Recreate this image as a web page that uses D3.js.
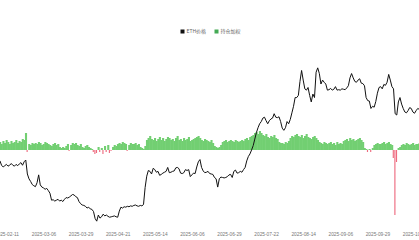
<!DOCTYPE html>
<meta charset="utf-8" />
<head>
  <script src="https://cdn.jsdelivr.net/npm/d3@7/dist/d3.min.js"></script>
  <title>ETH价格 持仓加权</title>
  <style>
    body {
      margin: 0;
      background: #fff;
    }

    .axis--x path,
    .axis--x line {
      display: none;
    }

    .axis--x text {
      fill: #777;
      font-size: 4.8px;
      font-family: "Liberation Sans", Arial, sans-serif;
    }

    .legend text {
      fill: #666;
      font-size: 5px;
      font-family: "Noto Sans CJK SC", sans-serif;
    }
  </style>
</head>
<body>
  <svg id="chart" width="419" height="240"></svg>
</body>

<script>
  // daily data, first day = startDate
  const startDate = "2025-02-07";
  const seriesNames = ["ETH价格", "持仓加权"];
  const tickLabels = [
    "2025-02-11", "2025-03-06", "2025-03-29", "2025-04-21", "2025-05-14", "2025-06-06",
    "2025-06-29", "2025-07-22", "2025-08-14", "2025-09-06", "2025-09-29", "2025-10-22",
  ];

  // ETH price (USD)
  const priceFeb = [2800, 2700, 2660, 2690, 2720, 2680, 2700, 2740, 2700, 2680, 2720, 2690, 2730, 2760, 2700, 2780, 2820, 2500, 2390, 2330, 2260, 2230];
  const priceMar = [2210, 2300, 2480, 2250, 2200, 2180, 2150, 2170, 2120, 2060, 1900, 1910, 1880, 1900, 1920, 1880, 1900, 1870, 1920, 1960, 1950, 1970, 2000, 2030, 2020, 1980, 1960, 1870, 1820, 1790, 1780];
  const priceApr = [1760, 1720, 1740, 1700, 1690, 1640, 1480, 1420, 1560, 1490, 1520, 1580, 1540, 1560, 1530, 1510, 1520, 1530, 1540, 1520, 1510, 1650, 1740, 1720, 1750, 1740, 1760, 1750, 1770, 1760];
  const priceMay = [1780, 1790, 1770, 1760, 1780, 1770, 1800, 2190, 2450, 2580, 2560, 2500, 2630, 2600, 2540, 2560, 2470, 2490, 2520, 2540, 2560, 2650, 2530, 2540, 2560, 2570, 2640, 2650, 2620, 2520, 2510];
  const priceJun = [2530, 2600, 2580, 2600, 2440, 2480, 2520, 2510, 2660, 2780, 2830, 2650, 2570, 2530, 2540, 2560, 2510, 2500, 2490, 2420, 2390, 2200, 2390, 2430, 2420, 2410, 2420, 2440, 2480, 2490];
  const priceJul = [2420, 2560, 2590, 2520, 2530, 2560, 2540, 2600, 2650, 2800, 2900, 2960, 3050, 3150, 3300, 3450, 3560, 3650, 3700, 3780, 3800, 3720, 3650, 3720, 3760, 3780, 3880, 3800, 3790, 3810, 3700];
  const priceAug = [3550, 3500, 3560, 3700, 3650, 3750, 3900, 4050, 4250, 4250, 4300, 4620, 4870, 4650, 4450, 4420, 4480, 4300, 4150, 4330, 4250, 4830, 4930, 4800, 4560, 4650, 4600, 4560, 4420, 4430, 4460];
  const priceSep = [4420, 4440, 4500, 4420, 4430, 4420, 4450, 4440, 4430, 4470, 4520, 4700, 4800, 4700, 4620, 4600, 4650, 4680, 4580, 4570, 4520, 4250, 4180, 4170, 4000, 4050, 4030, 4160, 4350, 4480];
  const priceOct = [4500, 4450, 4550, 4530, 4600, 4780, 4650, 4500, 4450, 3880, 3850, 4150, 4250, 4100, 4000, 3920, 3900, 3950, 4020, 4000, 3920, 3890, 3950, 4000, 3980];

  // OI-weighted funding rate (%)
  const fundFeb = [.008, .006, .009, .007, .01, .008, .006, .009, .007, .008, .01, .007, .009, .008, .011, .01, .017, -.002, .006, .005, .007, .006];
  const fundMar = [.007, .006, .008, .007, .005, .006, .008, .007, .006, .005, .004, .006, .007, .005, .006, .003, .002, .003, .002, .004, .006, -.001, .005, .007, .006, .007, .005, .004, .006, .003, .002];
  const fundApr = [.004, .005, .003, .002, .001, -.002, -.004, -.003, .003, -.002, .002, -.004, .004, -.002, .005, -.003, -.001, .003, .005, .004, .006, .007, .006, .008, .007, .006, -.001, .005, .007, .006];
  const fundMay = [.006, .007, .005, .006, .003, .002, .001, .004, .01, .012, .014, .011, .01, .012, .009, .011, .013, .01, .012, .009, .011, .013, .012, .01, .011, .009, .012, .014, .01, .011, .009];
  const fundJun = [.012, .01, .011, .013, .009, .01, .011, .012, .013, .014, .012, .01, .009, .011, .01, .009, .008, .01, .007, .004, .003, .002, .003, .005, .008, .009, .01, .008, .009, .01];
  const fundJul = [.009, .008, .01, .009, .008, .009, .01, .009, .011, .012, .01, .013, .014, .015, .017, .018, .016, .019, .017, .015, .014, .016, .013, .012, .014, .013, .015, .012, .011, .008, .007];
  const fundAug = [.007, .006, .008, .007, .009, .012, .014, .013, .015, .016, .014, .013, .015, .012, .014, .016, .013, .012, .011, .013, .014, .012, .01, .008, .007, .006, .008, .007, .006, .007, .008];
  const fundSep = [.006, .007, .005, .008, .006, .007, .006, .009, .01, .011, .009, .012, .01, .011, .009, .01, .011, .012, .01, .008, .002, .001, -.002, .001, -.002, .002, .005, .006, .007, .006];
  const fundOct = [.006, .007, .008, .006, .007, .008, .006, .005, -.008, -.065, -.012, .002, .003, .005, .006, .005, .007, .006, .005, .006, .007, .005, .006, .006, .007];

  const parseDate = d3.timeParse("%Y-%m-%d");
  const formatDate = d3.timeFormat("%Y-%m-%d");

  const prices = [].concat(priceFeb, priceMar, priceApr, priceMay, priceJun, priceJul, priceAug, priceSep, priceOct);
  const funding = [].concat(fundFeb, fundMar, fundApr, fundMay, fundJun, fundJul, fundAug, fundSep, fundOct);

  const data = prices.map((p, i) => ({
    date: d3.timeDay.offset(parseDate(startDate), i),
    price: p,
    rate: funding[i],
  }));

  const chart = (data) => {
    const svg = d3.select("#chart");

    const x = d3
      .scaleTime()
      .domain([parseDate("2025-02-11"), parseDate("2025-09-29")])
      .range([6.4, 377.4]);

    const yPrice = d3.scaleLinear().domain([1000, 5000]).range([239.5, 64.8]);
    const yRate = d3.scaleLinear().domain([-0.065, 0.02]).range([215, 130]);

    const step = x(data[1].date) - x(data[0].date);

    // funding bars (overlap a little so they read as one area)
    svg
      .append("g")
      .attr("class", "bars")
      .selectAll("rect")
      .data(data)
      .enter()
      .append("rect")
      .attr("x", (d) => x(d.date) - step / 2)
      .attr("width", (d) => (d.rate >= 0 ? step + 0.5 : step * 0.7))
      .attr("y", (d) => yRate(Math.max(0, d.rate)))
      .attr("height", (d) => Math.abs(yRate(d.rate) - yRate(0)))
      .attr("fill", (d) => (d.rate >= 0 ? "#72cf72" : "#ee6a7e"));

    // price line
    const line = d3
      .line()
      .x((d) => x(d.date))
      .y((d) => yPrice(d.price));

    svg
      .append("path")
      .datum(data)
      .attr("fill", "none")
      .attr("stroke", "#111")
      .attr("stroke-width", 1)
      .attr("stroke-linejoin", "round")
      .attr("d", line);

    svg
      .append("g")
      .attr("class", "axis--x")
      .attr("transform", "translate(0,232)")
      .call(
        d3
          .axisBottom(x)
          .tickValues(tickLabels.map(parseDate))
          .tickFormat(formatDate)
          .tickSize(0)
          .tickPadding(1)
      );

    // legend
    const legendColor = ["#111", "#44aa55"];
    const legendX = [180.5, 214.5];
    const legend = svg.append("g").attr("class", "legend");

    legend
      .selectAll("rect")
      .data(seriesNames)
      .enter()
      .append("rect")
      .attr("x", (d, i) => legendX[i])
      .attr("y", 29.5)
      .attr("width", 4)
      .attr("height", 4)
      .attr("fill", (d, i) => legendColor[i]);

    legend
      .selectAll("text")
      .data(seriesNames)
      .enter()
      .append("text")
      .attr("x", (d, i) => legendX[i] + 6)
      .attr("y", 31.6)
      .attr("dominant-baseline", "middle")
      .text((d) => d);
  };

  chart(data);
</script>
